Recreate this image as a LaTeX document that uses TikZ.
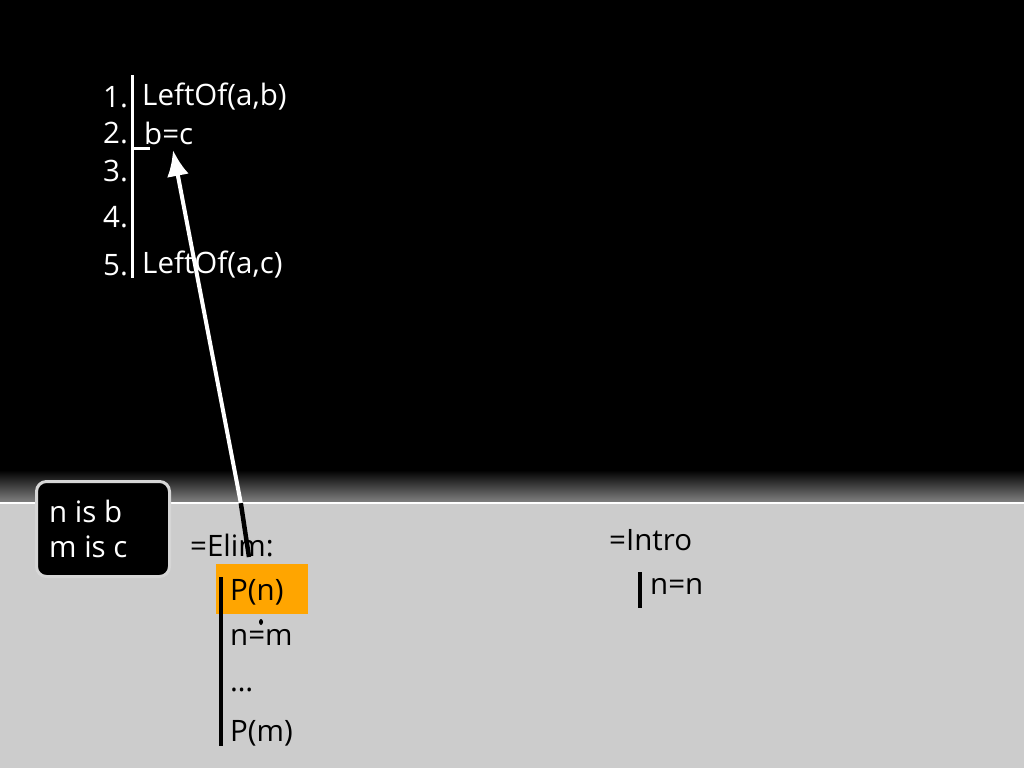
\documentclass[tikz,border=0pt]{standalone}
\usepackage{fontspec}
\setmainfont{Open Sans}
\usetikzlibrary{calc,arrows.meta}
\definecolor{slidegray}{HTML}{CCCCCC}
\definecolor{hilite}{HTML}{FFA500}
\newcommand{\txtsize}{\fontsize{29.5}{33}\selectfont}

\begin{document}
\begin{tikzpicture}[x=1pt,y=-1pt,
  wtxt/.style={anchor=west, inner sep=0pt, text=white, font=\txtsize},
  btxt/.style={anchor=west, inner sep=0pt, text=black, font=\txtsize}]
\useasboundingbox (0,0) rectangle (1024,768);
% background
\fill[black] (0,0) rectangle (1024,470);
\shade[top color=black, bottom color=black!50] (0,470) rectangle (1024,502);
\fill[slidegray] (0,504) rectangle (1024,768);
\draw[white, line width=2pt] (0,503) -- (1024,503);

% proof at the top
\node (n1) at (103,97) [wtxt] {1.};
\node (n2) at (103,133) [wtxt] {2.};
\node (n3) at (103,171) [wtxt] {3.};
\node (n4) at (103,217) [wtxt] {4.};
\node (n5) at (103,265) [wtxt] {5.};
\node (l1) at (142,97) [wtxt] {LeftOf(a,b)};
\node (l2) at (144,133) [wtxt] {b=c};
\node (l5) at (142,265) [wtxt] {LeftOf(a,c)};
\draw[white, line width=3pt] (132,75) -- (132,278);
\draw[white, line width=3pt] (132,148) -- (150,148);

% the box
\node (subst) at (35,480) [anchor=north west, minimum width=133pt, minimum height=95pt,
  fill=black, draw=slidegray!80, line width=3pt, rounded corners=10pt] {};
\node (s1) at (49,511) [wtxt] {n is b};
\node (s2) at (49,547) [wtxt] {m is c};

% =Elim
\node (elim) at (190,545) [btxt] {=Elim:};
\fill[hilite] (216,564) rectangle (308,614);
\draw[black, line width=4pt] (221,577) -- (221,746);
\node (pn) at (230,592) [btxt] {P(n)};
\node (nm) at (230,637) [btxt] {n=m};
\node (dots) at (230,690) [btxt] {\dots};
\node (pm) at (230,733) [btxt] {P(m)};
\fill[black] (261,622) ellipse (2pt and 3pt);

% =Intro
\node (intro) at (609,540) [btxt] {=Intro};
\draw[black, line width=4pt] (640,572) -- (640,608);
\node (nn) at (650,586) [btxt] {n=n};

% arrow
\coordinate (from) at (249,557);
\coordinate (edge) at (240.8,503);
\coordinate (to) at (173,150);
\draw[black, line width=4.5pt] (from) -- (edge);
\draw[white, line width=4pt, -{Latex[length=26pt,width=22pt]}] (edge) -- (to);
\end{tikzpicture}
\end{document}
